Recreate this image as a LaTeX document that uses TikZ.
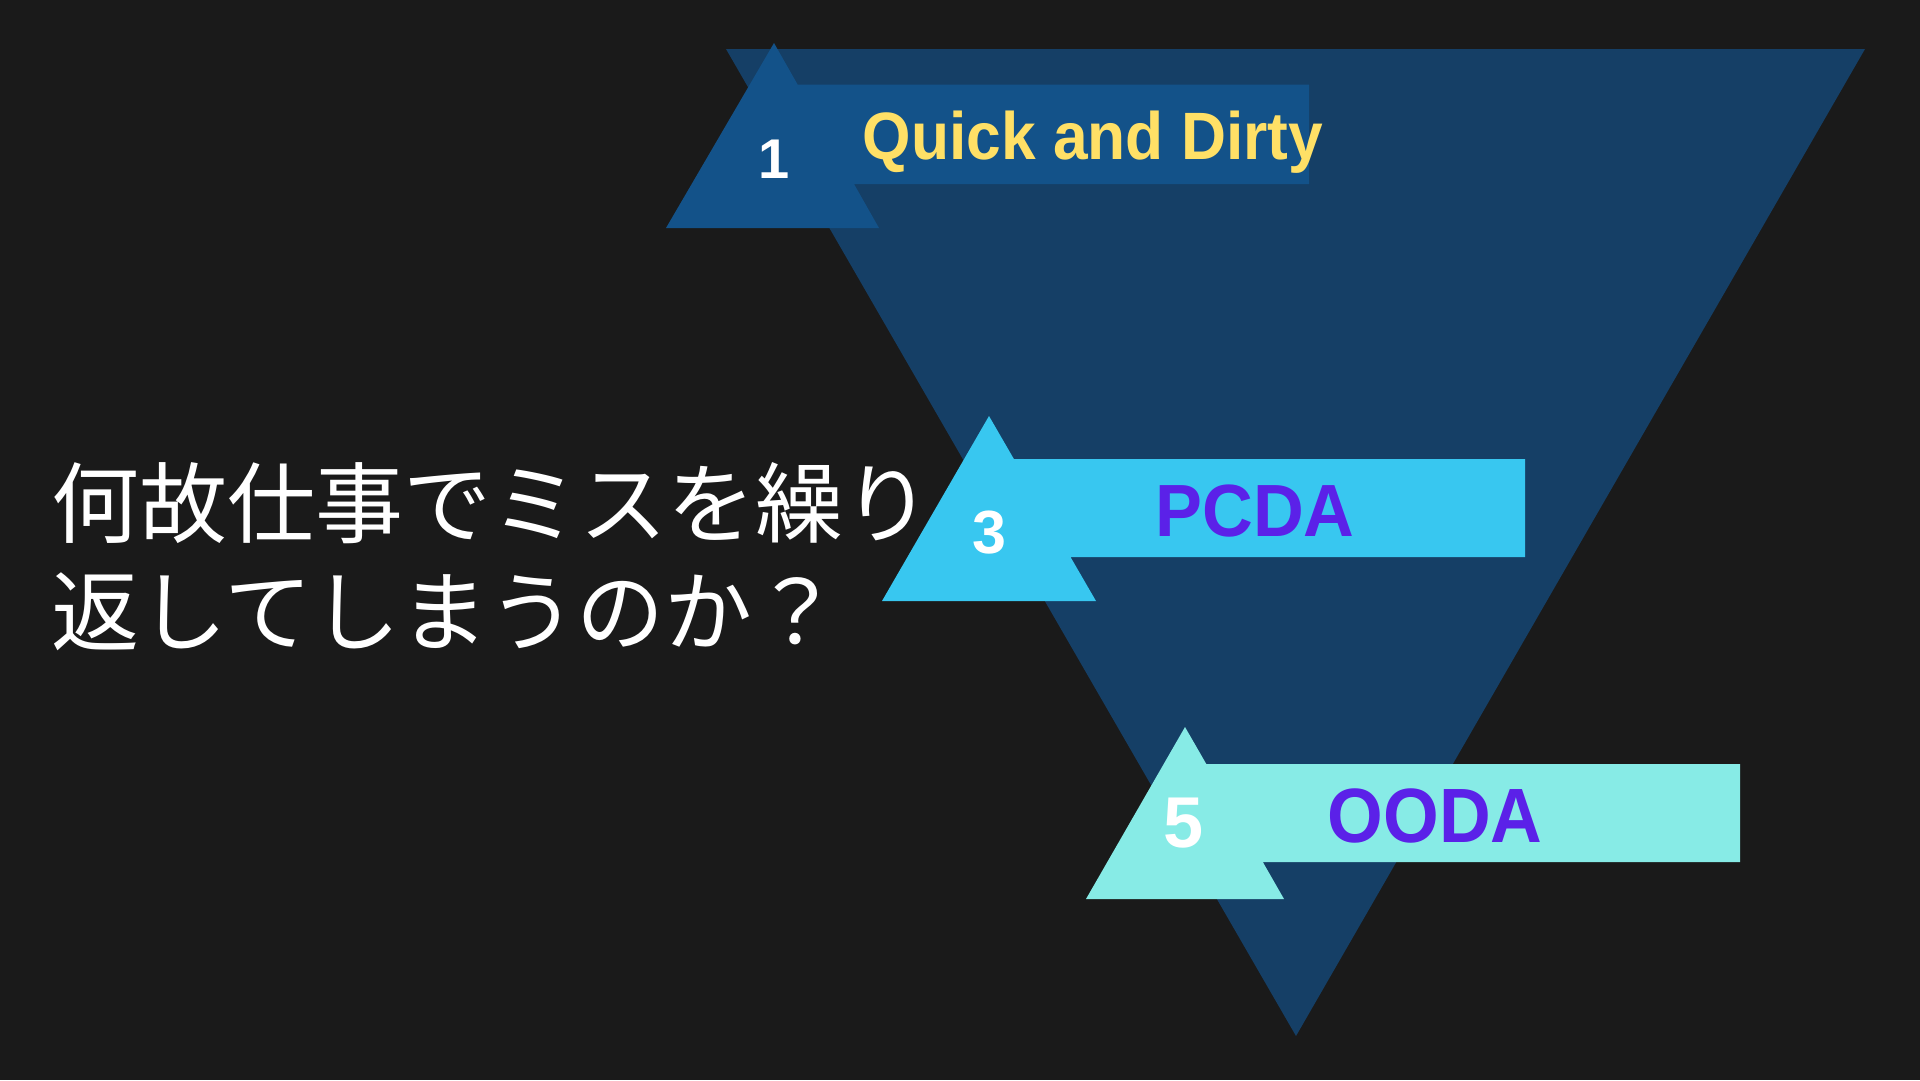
\documentclass[tikz,border=0pt]{standalone}
\usepackage{fontspec}
\setmainfont{Liberation Sans}
\newfontfamily\jpfont{Noto Sans CJK JP}
\definecolor{bgcol}{HTML}{1A1A1A}
\definecolor{funnel}{HTML}{153F66}
\definecolor{step1}{HTML}{135289}
\definecolor{step3}{HTML}{38C7F0}
\definecolor{step5}{HTML}{87EBE6}
\definecolor{gold}{HTML}{FFE066}
\definecolor{violet}{HTML}{5B21E8}

\begin{document}
\begin{tikzpicture}[x=1pt, y=-1pt,
	num/.style = {anchor = base, text = white, font = \bfseries},
	label/.style = {anchor = base, font = \bfseries},
	title/.style = {anchor = base west, inner sep = 0, text = white, font = \jpfont\fontsize{88}{100}\selectfont}]
	\fill[bgcol] (0,0) rectangle (1920,1080);
	\fill[funnel] (726,49) -- (1865,49) -- (1296,1036) -- cycle;
	% arrows
	\fill[step1] (774,43) -- (797.6,84.5) -- (1309,84.5) -- (1309,184) -- (854,184) -- (879,228) -- (666,228) -- cycle;
	\fill[step3] (989,416) -- (1013.9,459) -- (1525,459) -- (1525,557) -- (1070.5,557) -- (1096,601) -- (882,601) -- cycle;
	\fill[step5] (1185,727) -- (1206.3,764) -- (1740,764) -- (1740,862) -- (1262.8,862) -- (1284,899) -- (1086,899) -- cycle;
	% numbers and labels
	\node[num, font = \bfseries\fontsize{56}{60}\selectfont] (n1) at (774,178) {1};
	\node[num, font = \bfseries\fontsize{61}{66}\selectfont] (n3) at (989,553) {3};
	\node[num, font = \bfseries\fontsize{72}{78}\selectfont] (n5) at (1184,847) {5};
	\node[label, text = gold, xscale = 0.93, font = \bfseries\fontsize{67}{72}\selectfont] (l1) at (1093,159) {Quick and Dirty};
	\node[label, text = violet, xscale = 0.95, font = \bfseries\fontsize{74}{80}\selectfont] (l3) at (1255,536) {PCDA};
	\node[label, text = violet, xscale = 0.93, font = \bfseries\fontsize{77}{82}\selectfont] (l5) at (1435,842) {OODA};
	% title
	\node[title] (t1) at (51,536) {何故仕事でミスを繰り};
	\node[title] (t2) at (51,644) {返してしまうのか？};
\end{tikzpicture}
\end{document}
